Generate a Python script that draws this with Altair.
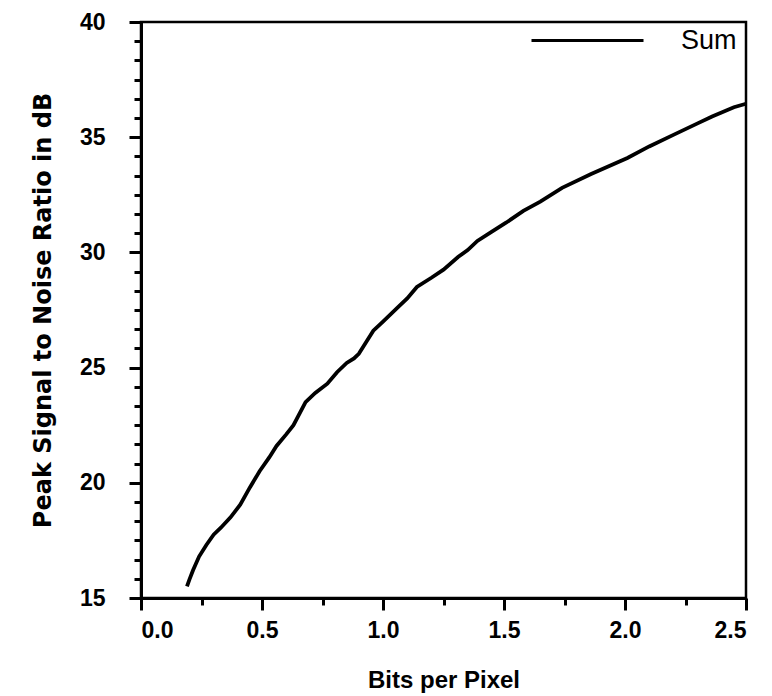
import altair as alt
import pandas as pd

# Curve (bits per pixel vs PSNR in dB)
bits = [0.19, 0.20, 0.215, 0.24, 0.27, 0.30, 0.33, 0.37, 0.41, 0.45, 0.49, 0.53,
        0.56, 0.60, 0.63, 0.68, 0.72, 0.77, 0.81, 0.85, 0.88, 0.90, 0.93, 0.96,
        1.00, 1.06, 1.10, 1.14, 1.20, 1.25, 1.31, 1.35, 1.39, 1.45, 1.51, 1.58,
        1.65, 1.74, 1.86, 2.01, 2.10, 2.20, 2.30, 2.36, 2.45, 2.50]
psnr = [15.5, 15.8, 16.2, 16.8, 17.3, 17.75, 18.05, 18.5, 19.05, 19.8, 20.5, 21.1,
        21.6, 22.1, 22.5, 23.5, 23.9, 24.3, 24.8, 25.2, 25.4, 25.6, 26.1, 26.6,
        27.0, 27.6, 28.0, 28.5, 28.9, 29.25, 29.8, 30.1, 30.5, 30.9, 31.3, 31.8,
        32.2, 32.8, 33.4, 34.1, 34.6, 35.1, 35.6, 35.9, 36.3, 36.45]
series = ["Sum"] * len(bits)

x_ticks = [i * 0.25 for i in range(11)]
y_ticks = [15 + i * 5 / 6 for i in range(31)]

df = pd.DataFrame({"bpp": bits, "psnr": psnr, "series": series})

x_major = "abs(datum.value / 0.5 - round(datum.value / 0.5)) < 0.001"
y_major = "abs(datum.value / 5 - round(datum.value / 5)) < 0.001"

FONT = "Liberation Sans"

chart = alt.Chart(df).mark_line(strokeWidth=3.8).encode(
    x=alt.X(
        "bpp:Q",
        scale=alt.Scale(domain=[0, 2.5], nice=False, zero=False),
        axis=alt.Axis(
            values=x_ticks,
            title="Bits per Pixel",
            labelExpr=f"{x_major} ? format(datum.value, '.1f') : ''",
            tickSize={"condition": {"test": x_major, "value": 12}, "value": 7},
            labelPadding=9,
            titlePadding=26,
            titleFontSize=24,
        ),
    ),
    y=alt.Y(
        "psnr:Q",
        scale=alt.Scale(domain=[15, 40], nice=False, zero=False),
        axis=alt.Axis(
            values=y_ticks,
            title="Peak Signal to Noise Ratio in dB",
            labelExpr=f"{y_major} ? format(round(datum.value), 'd') : ''",
            tickSize={"condition": {"test": y_major, "value": 12}, "value": 7},
            labelPadding=24,
            titlePadding=24,
            titleFont="DejaVu Sans",
            titleFontSize=24,
        ),
    ),
    color=alt.Color(
        "series:N",
        scale=alt.Scale(range=["black"]),
        legend=alt.Legend(
            title=None,
            orient="none",
            legendX=389,
            legendY=-39,
            symbolType="stroke",
            symbolSize=12544,
            symbolStrokeWidth=3,
            symbolStrokeColor="black",
            labelFont=FONT,
            labelFontSize=27,
            labelFontWeight="normal",
            labelColor="black",
            labelOffset=36,
            padding=0,
        ),
    ),
).properties(
    width=605,
    height=576,
    padding={"left": 141, "top": 22, "right": 26, "bottom": 98},
    autosize=alt.AutoSizeParams(type="none"),
    background="white",
).configure_view(
    stroke="black",
    strokeWidth=2.5,
).configure_axis(
    grid=False,
    domainColor="black",
    domainWidth=3,
    tickColor="black",
    tickWidth=3,
    labelColor="black",
    labelFont=FONT,
    labelFontSize=23,
    labelFontWeight="bold",
    labelOverlap=False,
    labelBound=False,
    titleColor="black",
    titleFont=FONT,
    titleFontWeight="bold",
)

chart.save("out.html", embed_options={"renderer": "svg", "actions": False})
